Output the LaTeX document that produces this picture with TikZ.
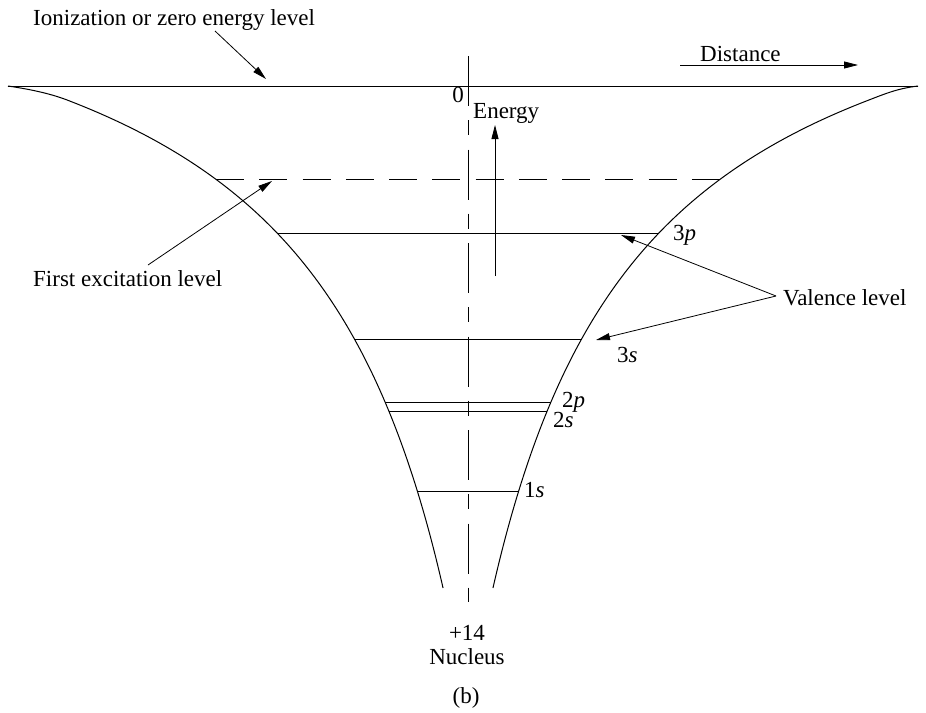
\documentclass[tikz,border=0pt]{standalone}
\usepackage{fontspec}
\setmainfont{Liberation Serif}
\usetikzlibrary{arrows.meta}
\begin{document}
\begin{tikzpicture}[x=1pt,y=-1pt,
  lbl/.style={font=\fontsize{23}{27}\selectfont, inner sep=0pt},
  lvl/.style={line width=1pt},
  well/.style={line width=1pt},
  arr/.style={line width=0.8pt, -{Triangle[length=14pt,width=7pt]}},
  axisline/.style={line width=1pt, dash pattern=on 50pt off 14pt on 15pt off 14.5pt}]
\useasboundingbox (0,0) rectangle (926,712);

% zero level
\coordinate (zl) at (8,86);
\coordinate (zr) at (918,86);
\draw[lvl] (zl) -- (zr);

% potential well
\draw[well] (zl) .. controls (28,89) and (48.8,93) .. (67.1,100)
  -- plot[domain=14:502, samples=150] ({468-(1096.5/((\x+191.3)/100)-133.2)},{86+\x});
\draw[well] (zr) .. controls (898,88.5) and (887,93) .. (868.9,100)
  -- plot[domain=14:502, samples=150] ({468+(1096.5/((\x+191.3)/100)-133.2)},{86+\x});

% center axis
\coordinate (axt) at (468,56);
\coordinate (axb) at (468,602);
\draw[axisline] (axt) -- (axb);

% levels
\coordinate (exl) at (216,179); \coordinate (exr) at (720,179);
\draw[lvl, dash pattern=on 28pt off 15.27pt] (exl) -- (exr);
\coordinate (p3l) at (277.1,233); \coordinate (p3r) at (658.9,233);
\draw[lvl] (p3l) -- (p3r);
\coordinate (s3l) at (354.4,339); \coordinate (s3r) at (581.6,339);
\draw[lvl] (s3l) -- (s3r);
\coordinate (p2l) at (385.1,402); \coordinate (p2r) at (550.9,402);
\draw[lvl] (p2l) -- (p2r);
\coordinate (s2l) at (388.8,411); \coordinate (s2r) at (547.2,411);
\draw[lvl] (s2l) -- (s2r);
\coordinate (s1l) at (417.3,491); \coordinate (s1r) at (518.7,491);
\draw[lvl] (s1l) -- (s1r);

% labels
\node[lbl, anchor=base west] (ion) at (33,25) {Ionization or zero energy level};
\node[lbl, anchor=base west] (dist) at (700,61) {Distance};
\node[lbl, anchor=base east] (zero) at (464,102) {0};
\node[lbl, anchor=base west] (energy) at (473,118) {Energy};
\node[lbl, anchor=base west] (first) at (33,286) {First excitation level};
\node[lbl, anchor=base west] (val) at (783,305) {Valence level};
\node[lbl, anchor=base west] (l3p) at (673,240) {3\textit{p}};
\node[lbl, anchor=base west] (l3s) at (617,362) {3\textit{s}};
\node[lbl, anchor=base west] (l2p) at (562,407) {2\textit{p}};
\node[lbl, anchor=base west] (l2s) at (553,427) {2\textit{s}};
\node[lbl, anchor=base west] (l1s) at (524,497) {1\textit{s}};
\node[lbl, anchor=base] (charge) at (467,640) {+14};
\node[lbl, anchor=base] (nuc) at (467,664) {Nucleus};
\node[lbl, anchor=base] (cap) at (466,703) {(b)};

% arrows
\coordinate (ionS) at (215,31); \coordinate (ionT) at (266,79);
\draw[arr] (ionS) -- (ionT);
\coordinate (distS) at (680,65); \coordinate (distT) at (858,65);
\draw[arr] (distS) -- (distT);
\coordinate (enS) at (495,276); \coordinate (enT) at (495,125);
\draw[arr] (enS) -- (enT);
\coordinate (exS) at (148,265); \coordinate (exT) at (272,181);
\draw[arr] (exS) -- (exT);
\coordinate (vtx) at (776,296);
\coordinate (v1T) at (621,235); \coordinate (v2T) at (596,340);
\draw[arr] (vtx) -- (v1T);
\draw[arr] (vtx) -- (v2T);
\end{tikzpicture}
\end{document}
